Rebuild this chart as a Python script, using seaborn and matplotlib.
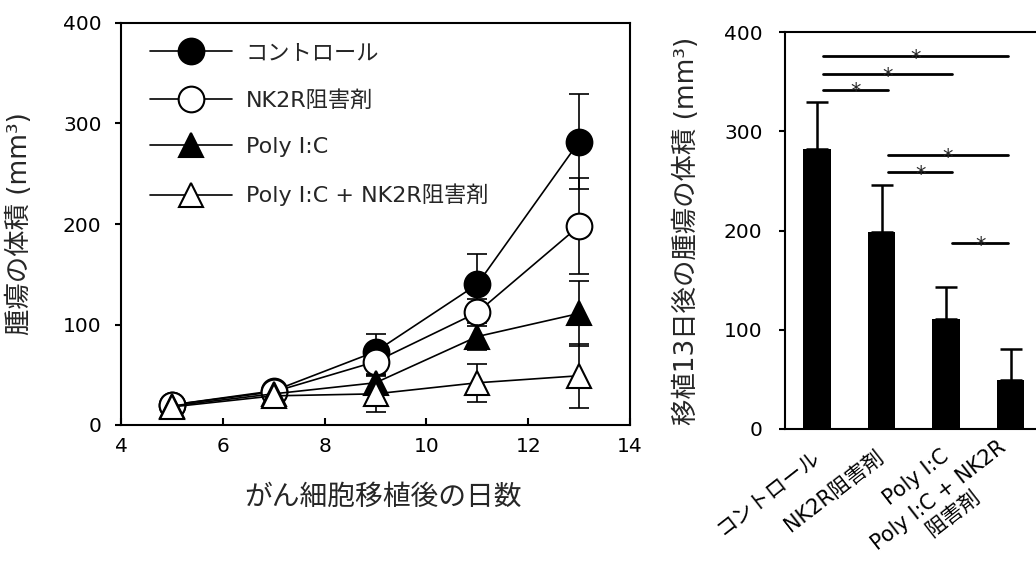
import numpy as np
import pandas as pd
import seaborn as sns
import matplotlib.pyplot as plt
from matplotlib.transforms import ScaledTranslation

# ---- data ----
days = [5, 7, 9, 11, 13]
groups = ["コントロール", "NK2R阻害剤", "Poly I:C", "Poly I:C + NK2R阻害剤"]

control = [20, 34, 73, 140, 282]
control_err = [3, 3, 18, 30, 47]
nk2r = [20, 33, 63, 112, 198]
nk2r_err = [3, 3, 12, 13, 48]
polyic = [19, 31, 42, 88, 111]
polyic_err = [2, 3, 8, 13, 32]
combo = [18, 29, 31, 42, 49]
combo_err = [2, 3, 18, 19, 32]

bar_labels = ["コントロール", "NK2R阻害剤", "Poly I:C", "Poly I:C + NK2R\n阻害剤"]

# significance brackets: (bar from, bar to, height)
sig_pairs = [(0, 3, 376), (0, 2, 358), (0, 1, 342), (1, 3, 276), (1, 2, 259), (2, 3, 187)]

series_vals = [control, nk2r, polyic, combo]
series_err = [control_err, nk2r_err, polyic_err, combo_err]
day13_mean = [v[-1] for v in series_vals]
day13_err = [e[-1] for e in series_err]

# marker styles
markers = ["o", "o", "^", "^"]
faces = ["black", "white", "black", "white"]
msizes = [18.5, 18.5, 17.5, 17.5]

sns.set_theme(style="ticks")
# latin glyphs from DejaVu (wide, like the original), kana/kanji from Noto CJK
plt.rcParams['font.family'] = ['DejaVu Sans', 'Noto Sans CJK JP']
plt.rcParams['axes.edgecolor'] = 'black'
plt.rcParams['xtick.color'] = 'black'
plt.rcParams['ytick.color'] = 'black'

W, H = 1036, 572
fig = plt.figure(figsize=(W / 100, H / 100), dpi=100)
ax1 = fig.add_axes([121 / W, 147 / H, 509 / W, 402 / H])
ax2 = fig.add_axes([784.75 / W, 143 / H, 258 / W, 397 / H])

# ================================
# left: growth curves
# ================================
for vals, err in zip(series_vals, series_err):
    ax1.errorbar(days, vals, yerr=err, fmt="none", ecolor="black",
                 elinewidth=1.2, capsize=7, capthick=1.2, zorder=1)

for name, vals, mk, fc, ms in zip(groups, series_vals, markers, faces, msizes):
    sns.lineplot(x=days, y=vals, ax=ax1, color="black", lw=1.2, marker=mk,
                 markersize=ms, markerfacecolor=fc, markeredgecolor="black",
                 markeredgewidth=1.5, label=name)

ax1.set_xlim(4, 14)
ax1.set_ylim(0, 400)
ax1.set_xticks(range(4, 15, 2))
ax1.set_yticks(range(0, 401, 100))
for s in ax1.spines.values():
    s.set_linewidth(1.5)
ax1.tick_params(axis="y", direction="out", length=4, width=1.5, labelsize=14.5, pad=10)
ax1.tick_params(axis="x", direction="in", length=5, width=1.5, labelsize=14.5, pad=9)
ax1.set_xlabel("がん細胞移植後の日数", fontsize=20)
ax1.set_ylabel("腫瘍の体積 (mm³)", fontsize=19)
ax1.xaxis.set_label_coords(0.515, -0.145)
ax1.yaxis.set_label_coords(-0.172, 0.5)
ax1.legend(loc="upper left", bbox_to_anchor=(0.018, 1.0), frameon=False,
           fontsize=16, handlelength=3.7, handletextpad=0.6,
           labelspacing=1.2, borderaxespad=0, borderpad=0.9)

# ================================
# right: day 13 bars
# ================================
bar_df = pd.DataFrame({"group": bar_labels, "volume": day13_mean})
sns.barplot(data=bar_df, x="group", y="volume", color="black", saturation=1,
            width=0.43, edgecolor="black", linewidth=0, ax=ax2, zorder=2)
ax2.errorbar(range(len(day13_mean)), day13_mean,
             yerr=[np.zeros(len(day13_err)), day13_err], fmt="none",
             ecolor="black", elinewidth=1.8, capsize=8, capthick=1.8, zorder=1)

for i, j, y in sig_pairs:
    x0, x1 = i + 0.1, min(j + 0.1, 2.96)
    ax2.plot([x0, x1], [y, y], color="black", lw=2, clip_on=False)
    ax2.text((x0 + x1) / 2, y - 9, "*", ha="center", va="baseline", fontsize=15)

ax2.set_xlim(-0.5, 3.5)
ax2.set_ylim(0, 400)
ax2.set_yticks(range(0, 401, 100))
ax2.set_xticks(range(len(bar_labels)))
ax2.set_xticklabels(bar_labels, rotation=38, ha="right", va="center",
                    rotation_mode="anchor", multialignment="center")
# the first category label sits a little further left in the original
lab0 = ax2.get_xticklabels()[0]
lab0.set_transform(lab0.get_transform() + ScaledTranslation(-0.26, 0, fig.dpi_scale_trans))
for s in ax2.spines.values():
    s.set_linewidth(1.5)
ax2.tick_params(axis="y", direction="out", length=4, width=1.5, labelsize=14.5, pad=12)
ax2.tick_params(axis="x", length=0, labelsize=15, pad=18)
ax2.set_xlabel("")
ax2.set_ylabel("移植13日後の腫瘍の体積 (mm³)", fontsize=19)
ax2.yaxis.set_label_coords(-0.33, 0.5)

fig.savefig("out.png", dpi=100)
